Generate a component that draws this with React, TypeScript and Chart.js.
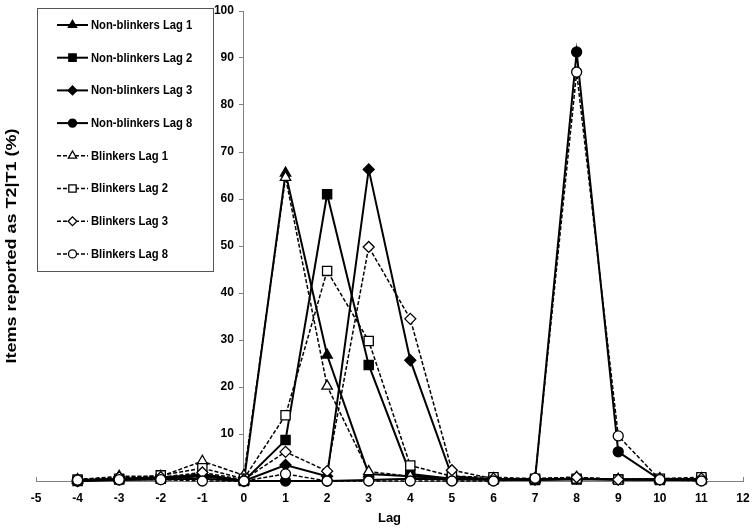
import React, { useEffect, useRef } from 'react';
import { Chart, registerables } from 'chart.js';
import { drawPoint } from 'chart.js/helpers';

Chart.register(...registerables);

const FONT = "'Liberation Sans', Arial, Helvetica, sans-serif";

// Lag positions of T2 (x axis)
const lags = [-4, -3, -2, -1, 0, 1, 2, 3, 4, 5, 6, 7, 8, 9, 10, 11];

// Items reported as T2|T1 (%)
const nonBlinkersLag1 = [0.2, 0.5, 0.5, 1.5, 0, 65.5, 26.8, 1.5, 1, 0.5, 0.3, 0.3, 0.5, 0.3, 0.3, 0.3];
const nonBlinkersLag2 = [0, 0.3, 0.5, 1, 0, 8.7, 61, 24.7, 1.5, 0.5, 0.3, 0.2, 0.3, 0.3, 0.2, 0.3];
const nonBlinkersLag3 = [0, 0.5, 0.8, 1.2, 0, 3.4, 1, 66.3, 25.7, 1, 0.3, 0.3, 0.5, 0.3, 0.3, 0.3];
const nonBlinkersLag8 = [0, 0.2, 0.3, 0.5, 0, 0, 0, 0.2, 0.5, 0.3, 0.3, 0.3, 91.3, 6.2, 0.3, 0.2];
const blinkersLag1 = [0.3, 1, 1, 4.2, 1.2, 64.6, 20.2, 2, 1, 0.5, 0.5, 0.5, 0.8, 0.3, 0.5, 0.5];
const blinkersLag2 = [0.3, 0.5, 1.2, 2.7, 0.5, 14, 44.7, 29.8, 3.3, 1, 0.8, 0.5, 0.5, 0.3, 0.5, 0.8];
const blinkersLag3 = [0.2, 0.8, 0.8, 1.8, 0.3, 6.2, 2.1, 49.8, 34.5, 2.3, 0.5, 0.5, 0.8, 0.3, 0.5, 0.5];
const blinkersLag8 = [0.2, 0.3, 0.3, 0, 0, 1.5, 0, 0, 0, 0, 0, 0.6, 87, 9.6, 0.3, 0];

const seriesLabels = [
  'Non-blinkers Lag 1',
  'Non-blinkers Lag 2',
  'Non-blinkers Lag 3',
  'Non-blinkers Lag 8',
  'Blinkers Lag 1',
  'Blinkers Lag 2',
  'Blinkers Lag 3',
  'Blinkers Lag 8',
];
const seriesValues = [
  nonBlinkersLag1, nonBlinkersLag2, nonBlinkersLag3, nonBlinkersLag8,
  blinkersLag1, blinkersLag2, blinkersLag3, blinkersLag8,
];
const seriesStyles = ['triangle', 'rect', 'rectRot', 'circle', 'triangle', 'rect', 'rectRot', 'circle'];
const seriesRadii = [6, 6.5, 5.5, 5, 6, 6.5, 5.5, 5];

const X_TITLE = 'Lag';
const Y_TITLE = 'Items reported as T2|T1 (%)';
const X_MIN = -5;
const X_MAX = 12;
const Y_MIN = 0;
const Y_MAX = 100;
const Y_STEP = 10;

const yTitlePlugin = {
  id: 'yTitlePlugin',
  afterDraw(chart: any) {
    const { ctx, chartArea } = chart;
    ctx.save();
    ctx.translate(12, (chartArea.top + chartArea.bottom) / 2);
    ctx.scale(0.8, 1);
    ctx.rotate(-Math.PI / 2);
    ctx.font = `bold 18px ${FONT}`;
    ctx.textAlign = 'center';
    ctx.textBaseline = 'middle';
    ctx.fillStyle = '#000';
    ctx.fillText(Y_TITLE, 0, 0);
    ctx.restore();
  },
};

const boxLegendPlugin = {
  id: 'boxLegendPlugin',
  afterDraw(chart: any) {
    const ctx = chart.ctx;
    ctx.save();
    ctx.fillStyle = '#fff';
    ctx.fillRect(37.5, 8.5, 176, 263);
    ctx.strokeStyle = '#555';
    ctx.lineWidth = 1;
    ctx.setLineDash([]);
    ctx.strokeRect(37.5, 8.5, 176, 263);
    chart.data.datasets.forEach((ds: any, i: number) => {
      const y = 25 + i * 32.7;
      ctx.beginPath();
      ctx.setLineDash(ds.borderDash || []);
      ctx.lineWidth = ds.borderWidth;
      ctx.strokeStyle = '#000';
      ctx.moveTo(57, y);
      ctx.lineTo(88, y);
      ctx.stroke();
      ctx.setLineDash([]);
      ctx.fillStyle = ds.pointBackgroundColor;
      ctx.strokeStyle = '#000';
      ctx.lineWidth = ds.pointBorderWidth;
      drawPoint(ctx, {
        pointStyle: ds.pointStyle,
        radius: ds.pointRadius * 0.8,
        rotation: 0,
        borderWidth: ds.pointBorderWidth,
      } as any, 72.5, y);
      ctx.save();
      ctx.translate(91, y + 0.5);
      ctx.scale(0.9, 1);
      ctx.fillStyle = '#000';
      ctx.font = `bold 12.5px ${FONT}`;
      ctx.textAlign = 'left';
      ctx.textBaseline = 'middle';
      ctx.fillText(ds.label, 0, 0);
      ctx.restore();
    });
    ctx.restore();
  },
};

export default function App() {
  const canvasRef = useRef<HTMLCanvasElement | null>(null);

  useEffect(() => {
    document.body.style.margin = '0';
    const canvas = canvasRef.current;
    if (!canvas) return;

    const datasets = seriesLabels.map((label, i) => {
      const blinker = i >= 4;
      return {
        label,
        data: lags.map((x, j) => ({ x, y: seriesValues[i][j] })),
        borderColor: '#000',
        backgroundColor: blinker ? '#fff' : '#000',
        borderWidth: blinker ? 1.5 : 2,
        borderDash: blinker ? [4, 2] : [],
        pointStyle: seriesStyles[i],
        pointRadius: seriesRadii[i],
        pointHoverRadius: seriesRadii[i],
        pointBackgroundColor: blinker ? '#fff' : '#000',
        pointBorderColor: '#000',
        pointBorderWidth: 1.3,
        tension: 0,
        fill: false,
        clip: false as any,
        order: seriesLabels.length - i,
      };
    });

    const chart = new Chart(canvas, {
      type: 'line',
      data: { datasets: datasets as any },
      options: {
        animation: false,
        responsive: false,
        events: [],
        layout: { padding: { left: 36, right: 10, top: 11, bottom: 0 } },
        plugins: {
          legend: { display: false },
          tooltip: { enabled: false },
        },
        scales: {
          x: {
            type: 'linear',
            min: X_MIN,
            max: X_MAX,
            ticks: {
              stepSize: 1,
              color: '#000',
              font: { family: FONT, size: 12, weight: 'bold' },
              padding: 14,
              maxRotation: 0,
            },
            grid: { display: true, drawOnChartArea: false, drawTicks: true, tickLength: -4, color: '#808080' },
            border: { display: true, color: '#808080', width: 1 },
            title: {
              display: true,
              text: X_TITLE,
              color: '#000',
              font: { family: FONT, size: 13, weight: 'bold' },
              padding: { top: 0, bottom: 4 },
            },
            afterFit(scale: any) {
              scale.height = 49;
              scale.paddingLeft = 0;
              scale.paddingRight = 0;
            },
          },
          y: {
            type: 'linear',
            position: { x: 0 } as any,
            min: Y_MIN,
            max: Y_MAX,
            ticks: {
              stepSize: Y_STEP,
              color: '#000',
              font: { family: FONT, size: 12, weight: 'bold' },
              callback: (v: any) => (Number(v) === 0 ? '' : String(v) + '   '),
            },
            grid: { display: true, drawOnChartArea: false, drawTicks: true, tickLength: 4, color: '#808080' },
            border: { display: true, color: '#808080', width: 1 },
            afterFit(scale: any) {
              scale.width = 0;
            },
          },
        },
      },
      plugins: [yTitlePlugin, boxLegendPlugin],
    });

    return () => chart.destroy();
  }, []);

  return (
    <div style={{ width: 753, height: 530 }}>
      <canvas ref={canvasRef} width={753} height={530} />
    </div>
  );
}
